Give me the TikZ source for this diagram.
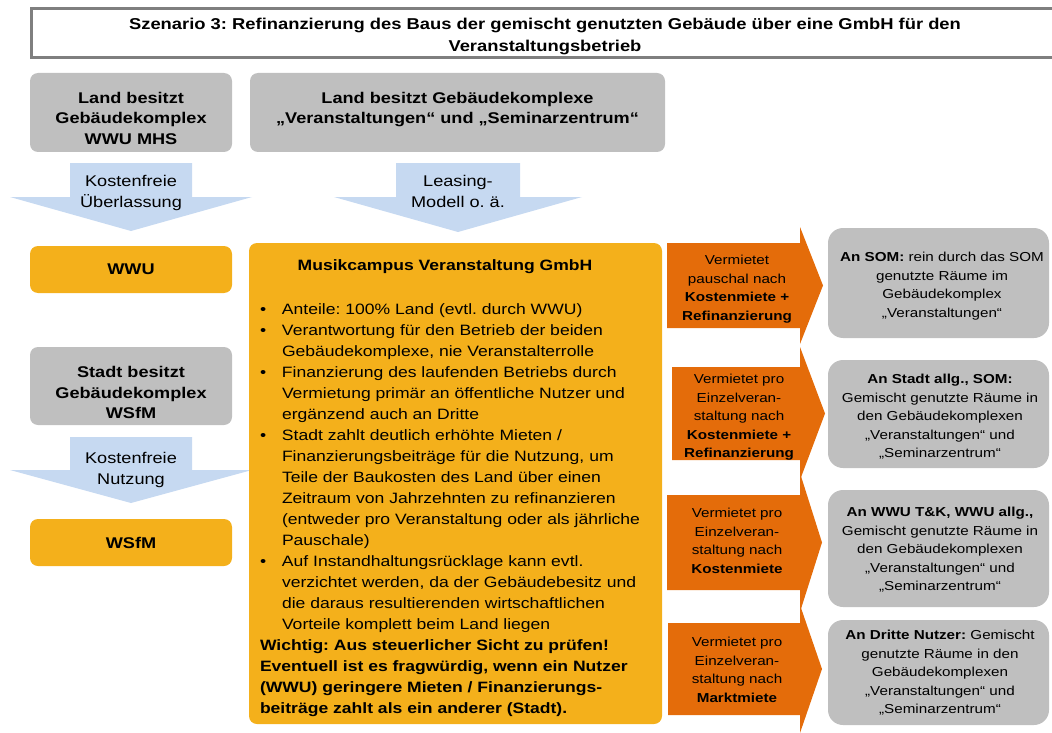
\documentclass[tikz,border=0pt]{standalone}
\usepackage{fontspec}
\setmainfont{Liberation Sans}[FakeStretch=1.17]
\frenchspacing
\definecolor{boxgray}{HTML}{BFBFBF}
\definecolor{gold}{HTML}{F4B01B}
\definecolor{rust}{HTML}{E46C0A}
\definecolor{paleblue}{HTML}{C6D9F1}
\definecolor{framegray}{HTML}{7F7F7F}
\begin{document}
\begin{tikzpicture}[x=1pt,y=-1pt,
  every node/.style={inner sep=0pt, outer sep=0pt},
  graybox/.style={fill=boxgray, rounded corners=8pt, anchor=north west},
  grayround/.style={fill=boxgray, rounded corners=15pt, anchor=north west},
  goldbox/.style={fill=gold, rounded corners=8pt, anchor=north west},
  bigbold/.style={font=\fontsize{15.5}{20.5}\selectfont\bfseries, align=center, anchor=base},
  bigplain/.style={font=\fontsize{15.5}{20.5}\selectfont, align=center, anchor=base},
  small/.style={font=\fontsize{13}{18.5}\selectfont, align=center, anchor=base},
  blockarrow/.style={fill=paleblue},
  rustarrow/.style={fill=rust}
]
\useasboundingbox (0,0) rectangle (1052,733);
\clip (0,0) rectangle (1052,733);

% title (base anchor = baseline of the last line)
\node[draw=framegray, line width=3pt, anchor=north west, minimum width=1060pt, minimum height=49pt] (titlebox) at (31,9) {};
\node[font=\fontsize{15.7}{22}\selectfont\bfseries, align=center, anchor=base] (title) at (545,52)
  {Szenario 3: Refinanzierung des Baus der gemischt genutzten Gebäude über eine GmbH für den\\Veranstaltungsbetrieb};

% top gray boxes
\node[graybox, minimum width=202pt, minimum height=79pt] (landA) at (30,73) {};
\node[bigbold] (landAtext) at (131,144.5) {Land besitzt\\Gebäudekomplex\\WWU MHS};
\node[graybox, minimum width=415pt, minimum height=79pt] (landB) at (250,73) {};
\node[bigbold] (landBtext) at (457.5,124) {Land besitzt Gebäudekomplexe\\„Veranstaltungen“ und „Seminarzentrum“};

% blue block arrows
\fill[blockarrow] (70,163) -- (192,163) -- (192,197) -- (252,197) -- (131,231) -- (10,197) -- (70,197) -- cycle;
\node[bigplain] (arrA) at (131,207) {Kostenfreie\\Überlassung};
\fill[blockarrow] (396,163) -- (520,163) -- (520,197) -- (582,197) -- (458,232) -- (334,197) -- (396,197) -- cycle;
\node[bigplain] (arrB) at (458,207) {Leasing-\\Modell o. ä.};

% left column
\node[goldbox, minimum width=202pt, minimum height=47pt, font=\fontsize{15.5}{20.5}\selectfont\bfseries, anchor=center] (wwu) at (131,269.5) {WWU};
\node[graybox, minimum width=202pt, minimum height=78pt] (stadt) at (30,347) {};
\node[bigbold] (stadttext) at (131,418.5) {Stadt besitzt\\Gebäudekomplex\\WSfM};
\fill[blockarrow] (70,437) -- (192,437) -- (192,470) -- (252,470) -- (131,503) -- (10,470) -- (70,470) -- cycle;
\node[bigplain] (arrC) at (131,484) {Kostenfreie\\Nutzung};
\node[goldbox, minimum width=202pt, minimum height=47pt, font=\fontsize{15.5}{20.5}\selectfont\bfseries, anchor=center] (wsfm) at (131,542.5) {WSfM};

% main box
\node[goldbox, minimum width=413pt, minimum height=481pt] (main) at (249,243) {};
\node[font=\fontsize{15}{21}\selectfont\bfseries, anchor=base] (maintitle) at (445,270.5) {Musikcampus Veranstaltung GmbH};
\node[font=\fontsize{15}{21}\selectfont, align=left, anchor=base west] (maintext) at (260,713) {%
\makebox[22pt][l]{\textbullet}Anteile: 100\% Land (evtl. durch WWU)\\
\makebox[22pt][l]{\textbullet}Verantwortung für den Betrieb der beiden\\
\hspace*{22pt}Gebäudekomplexe, nie Veranstalterrolle\\
\makebox[22pt][l]{\textbullet}Finanzierung des laufenden Betriebs durch\\
\hspace*{22pt}Vermietung primär an öffentliche Nutzer und\\
\hspace*{22pt}ergänzend auch an Dritte\\
\makebox[22pt][l]{\textbullet}Stadt zahlt deutlich erhöhte Mieten /\\
\hspace*{22pt}Finanzierungsbeiträge für die Nutzung, um\\
\hspace*{22pt}Teile der Baukosten des Land über einen\\
\hspace*{22pt}Zeitraum von Jahrzehnten zu refinanzieren\\
\hspace*{22pt}(entweder pro Veranstaltung oder als jährliche\\
\hspace*{22pt}Pauschale)\\
\makebox[22pt][l]{\textbullet}Auf Instandhaltungsrücklage kann evtl.\\
\hspace*{22pt}verzichtet werden, da der Gebäudebesitz und\\
\hspace*{22pt}die daraus resultierenden wirtschaftlichen\\
\hspace*{22pt}Vorteile komplett beim Land liegen\\
\textbf{Wichtig: Aus steuerlicher Sicht zu prüfen!}\\
\textbf{Eventuell ist es fragwürdig, wenn ein Nutzer}\\
\textbf{(WWU) geringere Mieten / Finanzierungs-}\\
\textbf{beiträge zahlt als ein anderer (Stadt).}};

% orange arrows
\fill[rustarrow] (667,243) -- (800,243) -- (800,227) -- (823,285.5) -- (800,344) -- (800,328) -- (667,328) -- cycle;
\node[small] (rentA) at (737,320) {Vermietet\\pauschal nach\\\textbf{Kostenmiete +}\\\textbf{Refinanzierung}};
\fill[rustarrow] (672,367) -- (800,367) -- (800,347) -- (825,413.5) -- (800,480) -- (800,460) -- (672,460) -- cycle;
\node[small] (rentB) at (739,457.5) {Vermietet pro\\Einzelveran-\\staltung nach\\\textbf{Kostenmiete +}\\\textbf{Refinanzierung}};
\fill[rustarrow] (667,495) -- (800,495) -- (800,473) -- (822,542.5) -- (800,612) -- (800,590) -- (667,590) -- cycle;
\node[small] (rentC) at (737,573) {Vermietet pro\\Einzelveran-\\staltung nach\\\textbf{Kostenmiete}};
\fill[rustarrow] (668,623) -- (800,623) -- (800,605) -- (822,669) -- (800,733) -- (800,715) -- (668,715) -- cycle;
\node[small] (rentD) at (737,702) {Vermietet pro\\Einzelveran-\\staltung nach\\\textbf{Marktmiete}};

% right gray boxes
\node[grayround, minimum width=221pt, minimum height=110pt] (som) at (828,228) {};
\node[small] (somtext) at (942,317) {\textbf{An SOM:} rein durch das SOM\\genutzte Räume im\\Gebäudekomplex\\„Veranstaltungen“};
\node[grayround, minimum width=221pt, minimum height=108pt] (stadtallg) at (828,360) {};
\node[small] (stadtallgtext) at (940,457.5) {\textbf{An Stadt allg., SOM:}\\Gemischt genutzte Räume in\\den Gebäudekomplexen\\„Veranstaltungen“ und\\„Seminarzentrum“};
\node[grayround, minimum width=221pt, minimum height=117pt] (wwutk) at (828,490) {};
\node[small] (wwutktext) at (940,590.5) {\textbf{An WWU T\&K, WWU allg.,}\\Gemischt genutzte Räume in\\den Gebäudekomplexen\\„Veranstaltungen“ und\\„Seminarzentrum“};
\node[grayround, minimum width=221pt, minimum height=105pt] (dritte) at (828,620) {};
\node[small] (drittetext) at (940,713.5) {\textbf{An Dritte Nutzer:} Gemischt\\genutzte Räume in den\\Gebäudekomplexen\\„Veranstaltungen“ und\\„Seminarzentrum“};
\end{tikzpicture}
\end{document}
